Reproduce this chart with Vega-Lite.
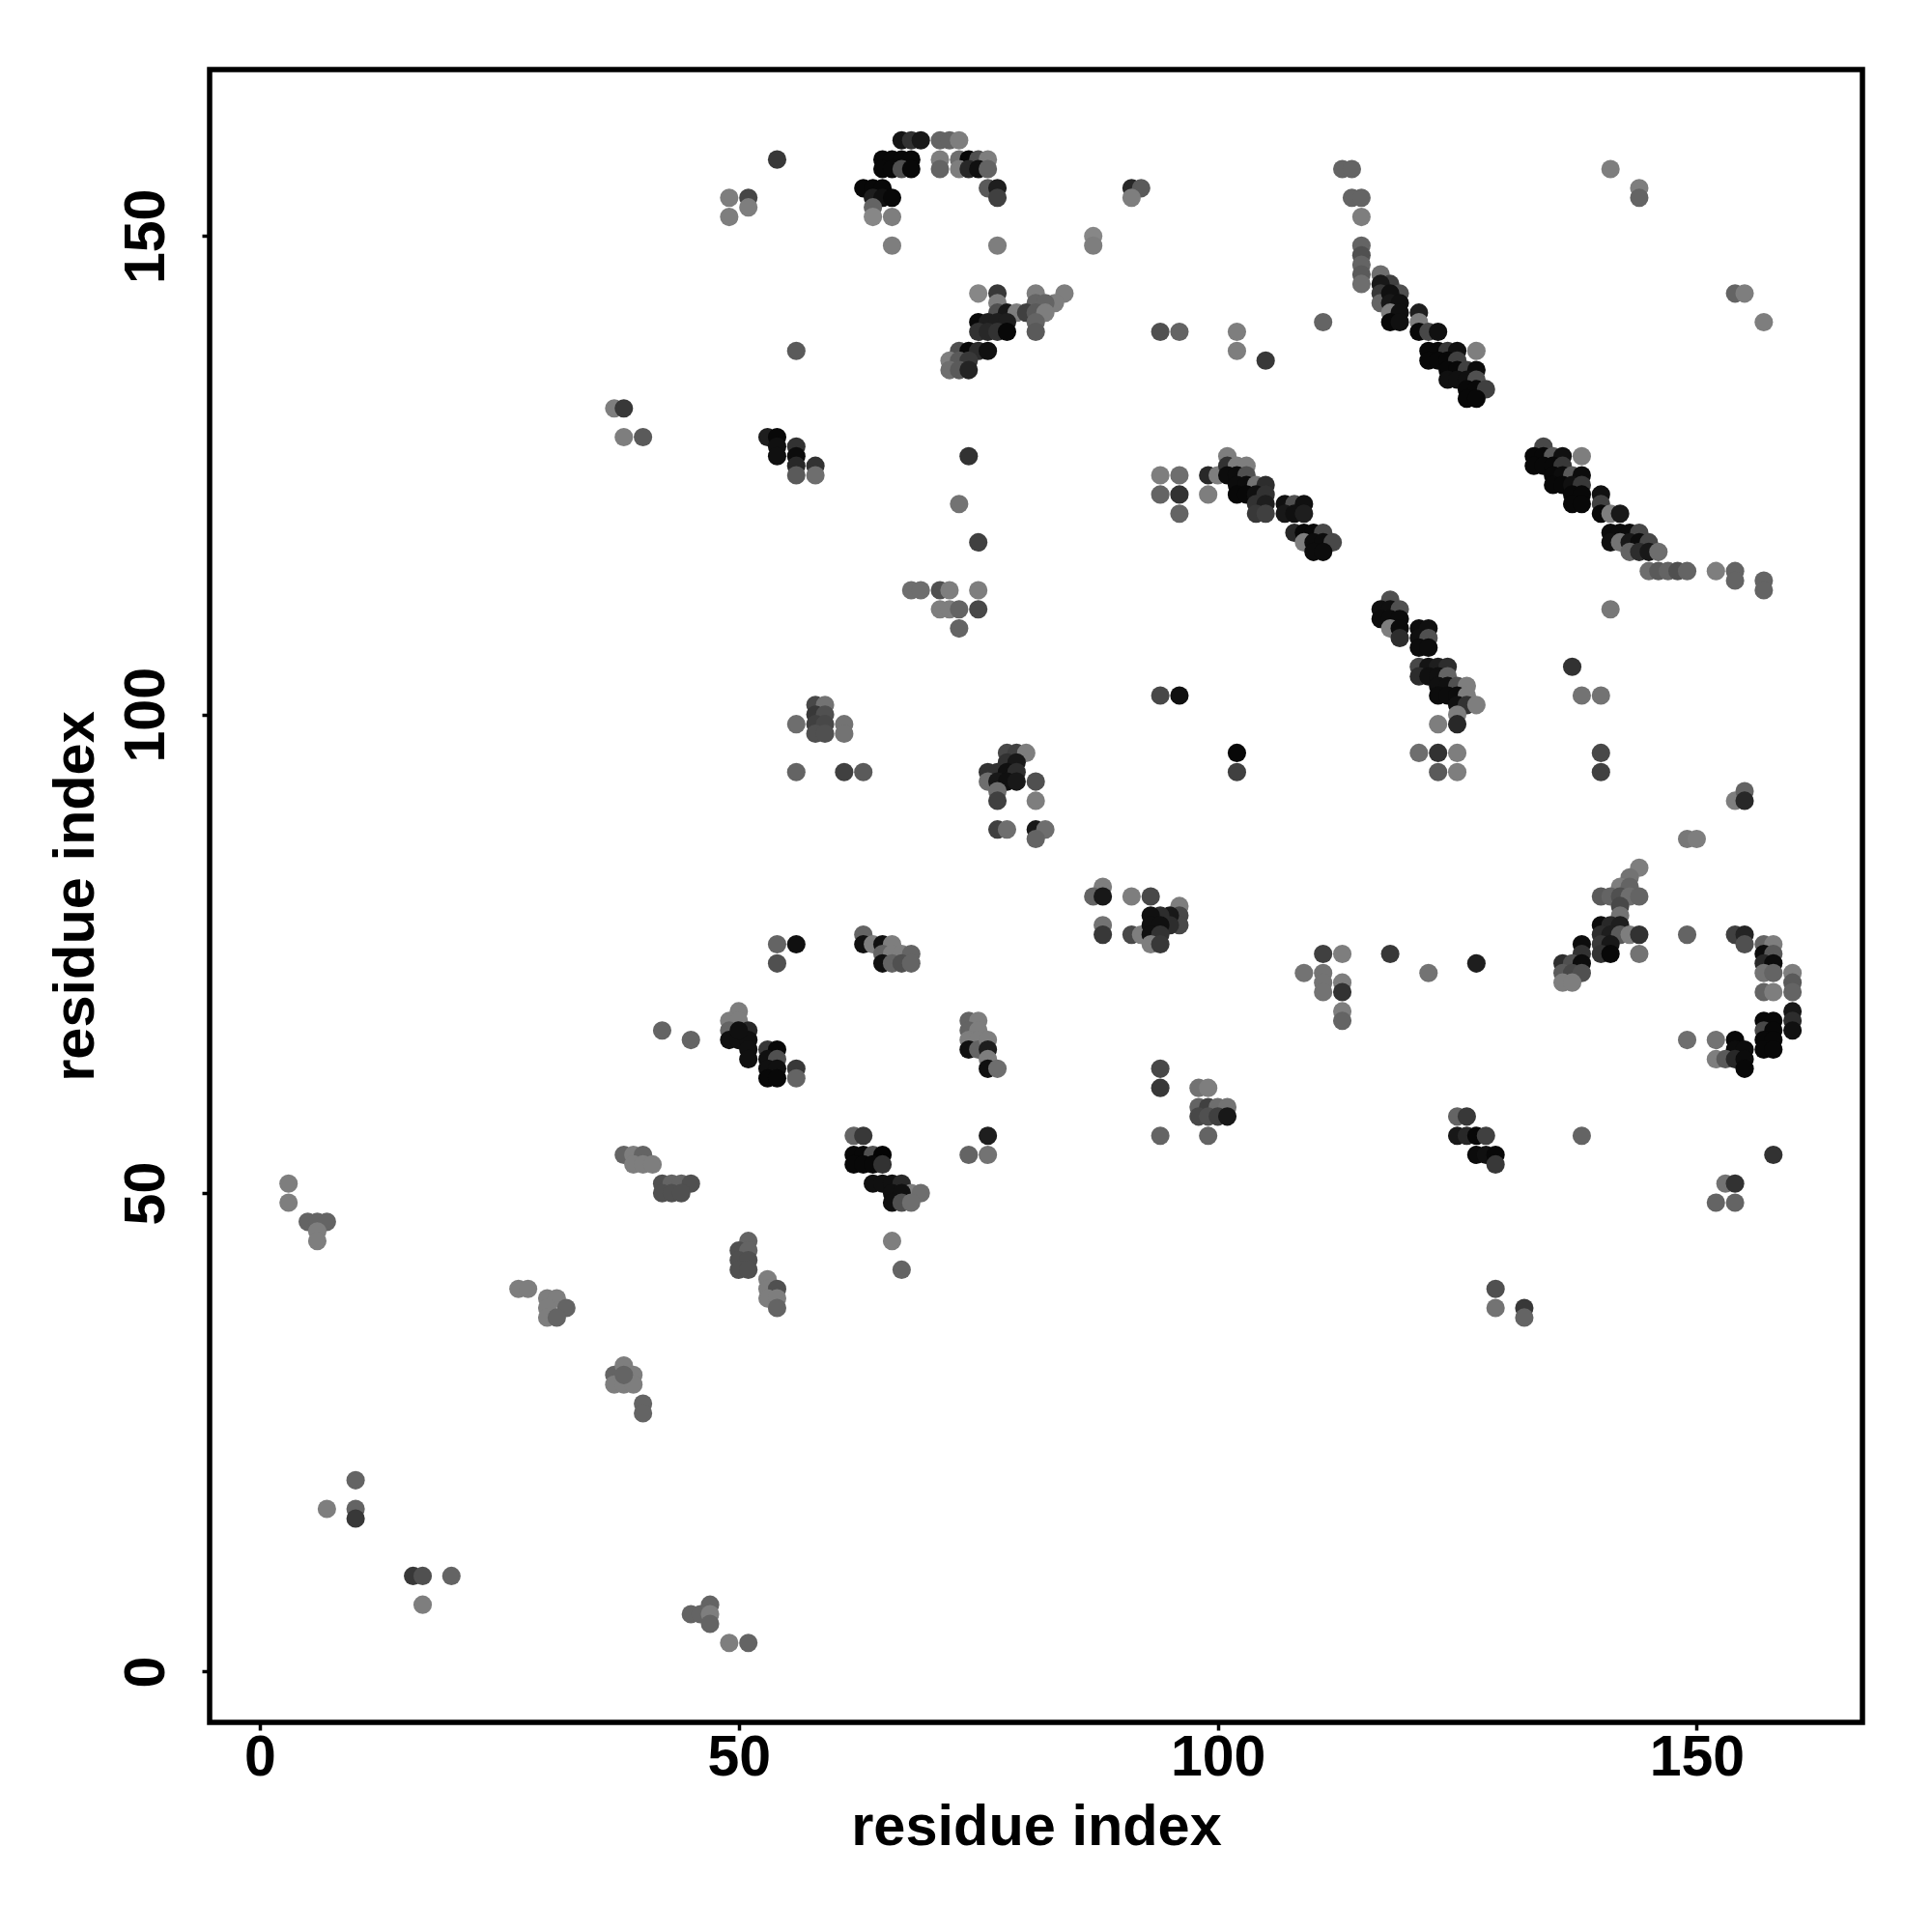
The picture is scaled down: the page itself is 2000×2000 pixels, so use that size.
{"$schema":"https://vega.github.io/schema/vega-lite/v6.json","autosize":{"type":"none"},"padding":{"left":217,"top":72,"right":72,"bottom":217},"width":1711,"height":1711,"background":"white","config":{"view":{"stroke":"black","strokeWidth":5.5,"fill":"white"}},
"data":{"values":[
{"x":3,"y":51,"v":126},{"x":3,"y":49,"v":126},{"x":5,"y":47,"v":100},{"x":6,"y":47,"v":100},{"x":7,"y":47,"v":100},{"x":6,"y":46,"v":126},{"x":6,"y":45,"v":126},{"x":7,"y":17,"v":126},{"x":10,"y":20,"v":100},{"x":10,"y":17,"v":100},{"x":10,"y":16,"v":56},{"x":16,"y":10,"v":56},{"x":17,"y":10,"v":80},{"x":20,"y":10,"v":100},{"x":17,"y":7,"v":126},
{"x":27,"y":40,"v":126},{"x":28,"y":40,"v":126},{"x":30,"y":39,"v":126},{"x":31,"y":39,"v":126},{"x":30,"y":38,"v":126},{"x":32,"y":38,"v":100},{"x":30,"y":37,"v":126},{"x":31,"y":37,"v":100},{"x":37,"y":31,"v":100},{"x":38,"y":32,"v":126},{"x":39,"y":31,"v":126},{"x":37,"y":30,"v":126},{"x":38,"y":30,"v":126},{"x":39,"y":30,"v":126},{"x":38,"y":31,"v":100},{"x":40,"y":28,"v":100},{"x":40,"y":27,"v":100},
{"x":45,"y":6,"v":100},{"x":46,"y":6,"v":100},{"x":47,"y":7,"v":100},{"x":47,"y":6,"v":126},{"x":47,"y":5,"v":100},{"x":49,"y":3,"v":126},{"x":51,"y":3,"v":100},
{"x":38,"y":54,"v":100},{"x":39,"y":54,"v":126},{"x":40,"y":54,"v":100},{"x":39,"y":53,"v":126},{"x":40,"y":53,"v":126},{"x":41,"y":53,"v":126},{"x":42,"y":51,"v":80},{"x":43,"y":51,"v":100},{"x":44,"y":51,"v":100},{"x":45,"y":51,"v":80},{"x":42,"y":50,"v":80},{"x":43,"y":50,"v":80},{"x":44,"y":50,"v":80},
{"x":51,"y":45,"v":100},{"x":50,"y":44,"v":80},{"x":51,"y":44,"v":100},{"x":50,"y":43,"v":80},{"x":51,"y":43,"v":80},{"x":50,"y":42,"v":80},{"x":51,"y":42,"v":80},{"x":53,"y":41,"v":126},{"x":53,"y":40,"v":126},{"x":54,"y":40,"v":80},{"x":53,"y":39,"v":126},{"x":54,"y":39,"v":126},{"x":54,"y":38,"v":100},{"x":42,"y":67,"v":100},{"x":45,"y":66,"v":100},
{"x":50,"y":69,"v":126},{"x":49,"y":68,"v":126},{"x":50,"y":68,"v":126},{"x":49,"y":67,"v":100},{"x":51,"y":67,"v":40},{"x":49,"y":66,"v":16},{"x":50,"y":66,"v":16},{"x":51,"y":66,"v":16},{"x":51,"y":65,"v":16},{"x":51,"y":64,"v":16},{"x":50,"y":67,"v":16},{"x":53,"y":65,"v":56},{"x":54,"y":65,"v":8},{"x":53,"y":64,"v":16},{"x":54,"y":64,"v":80},{"x":53,"y":63,"v":16},{"x":54,"y":63,"v":16},{"x":53,"y":62,"v":8},{"x":54,"y":62,"v":8},{"x":56,"y":63,"v":56},{"x":56,"y":62,"v":100},
{"x":74,"y":68,"v":100},{"x":75,"y":68,"v":126},{"x":74,"y":67,"v":100},{"x":75,"y":67,"v":126},{"x":74,"y":66,"v":126},{"x":75,"y":66,"v":126},{"x":74,"y":65,"v":16},{"x":75,"y":65,"v":100},{"x":76,"y":66,"v":126},{"x":76,"y":65,"v":30},{"x":76,"y":64,"v":126},{"x":76,"y":63,"v":16},{"x":77,"y":63,"v":110},
{"x":62,"y":56,"v":100},{"x":63,"y":56,"v":56},{"x":62,"y":54,"v":8},{"x":63,"y":54,"v":8},{"x":64,"y":54,"v":80},{"x":65,"y":54,"v":4},{"x":62,"y":53,"v":8},{"x":63,"y":53,"v":8},{"x":64,"y":53,"v":8},{"x":65,"y":53,"v":50},{"x":64,"y":51,"v":16},{"x":65,"y":51,"v":16},{"x":66,"y":51,"v":16},{"x":67,"y":51,"v":40},{"x":68,"y":50,"v":126},{"x":69,"y":50,"v":110},{"x":66,"y":50,"v":16},{"x":67,"y":50,"v":16},{"x":66,"y":49,"v":16},{"x":67,"y":49,"v":80},{"x":68,"y":49,"v":110},{"x":66,"y":45,"v":126},{"x":67,"y":42,"v":100},
{"x":54,"y":76,"v":100},{"x":56,"y":76,"v":16},{"x":54,"y":74,"v":80},{"x":63,"y":77,"v":100},{"x":63,"y":76,"v":16},{"x":64,"y":76,"v":126},{"x":65,"y":76,"v":16},{"x":66,"y":76,"v":126},{"x":65,"y":75,"v":100},{"x":66,"y":75,"v":126},{"x":67,"y":75,"v":126},{"x":68,"y":75,"v":100},{"x":65,"y":74,"v":16},{"x":66,"y":74,"v":100},{"x":67,"y":74,"v":80},{"x":68,"y":74,"v":100},{"x":76,"y":56,"v":30},{"x":74,"y":54,"v":100},{"x":76,"y":54,"v":115},
{"x":67,"y":160,"v":20},{"x":68,"y":160,"v":50},{"x":69,"y":160,"v":24},{"x":71,"y":160,"v":100},{"x":72,"y":160,"v":100},{"x":73,"y":160,"v":126},{"x":65,"y":158,"v":8},{"x":66,"y":158,"v":8},{"x":67,"y":158,"v":8},{"x":68,"y":158,"v":8},{"x":71,"y":158,"v":126},{"x":73,"y":158,"v":110},{"x":74,"y":158,"v":8},{"x":75,"y":158,"v":80},{"x":76,"y":158,"v":126},{"x":65,"y":157,"v":8},{"x":66,"y":157,"v":8},{"x":67,"y":157,"v":80},{"x":68,"y":157,"v":8},{"x":71,"y":157,"v":100},{"x":73,"y":157,"v":126},{"x":74,"y":157,"v":40},{"x":75,"y":157,"v":16},{"x":76,"y":157,"v":100},{"x":63,"y":155,"v":8},{"x":64,"y":155,"v":8},{"x":65,"y":155,"v":8},{"x":76,"y":155,"v":90},{"x":77,"y":155,"v":30},{"x":64,"y":154,"v":30},{"x":65,"y":154,"v":16},{"x":66,"y":154,"v":8},{"x":77,"y":154,"v":64},{"x":64,"y":153,"v":100},{"x":64,"y":152,"v":135},{"x":66,"y":152,"v":126},{"x":66,"y":149,"v":126},{"x":77,"y":149,"v":126},{"x":87,"y":150,"v":135},{"x":87,"y":149,"v":126},
{"x":75,"y":144,"v":135},{"x":77,"y":144,"v":56},{"x":81,"y":144,"v":126},{"x":84,"y":144,"v":126},{"x":77,"y":143,"v":126},{"x":81,"y":143,"v":100},{"x":83,"y":143,"v":126},{"x":82,"y":143,"v":100},{"x":77,"y":142,"v":80},{"x":78,"y":142,"v":24},{"x":79,"y":142,"v":126},{"x":80,"y":142,"v":64},{"x":81,"y":142,"v":90},{"x":82,"y":142,"v":126},{"x":75,"y":141,"v":8},{"x":76,"y":141,"v":30},{"x":77,"y":141,"v":30},{"x":78,"y":141,"v":30},{"x":81,"y":141,"v":100},{"x":75,"y":140,"v":50},{"x":76,"y":140,"v":40},{"x":77,"y":140,"v":50},{"x":78,"y":140,"v":8},{"x":81,"y":140,"v":90},{"x":73,"y":138,"v":80},{"x":74,"y":138,"v":8},{"x":75,"y":138,"v":45},{"x":76,"y":138,"v":16},{"x":72,"y":137,"v":126},{"x":73,"y":137,"v":90},{"x":74,"y":137,"v":56},{"x":72,"y":136,"v":110},{"x":73,"y":136,"v":90},{"x":74,"y":136,"v":36},
{"x":54,"y":158,"v":56},{"x":49,"y":154,"v":126},{"x":51,"y":154,"v":70},{"x":49,"y":152,"v":126},{"x":51,"y":153,"v":126},{"x":91,"y":155,"v":40},{"x":92,"y":155,"v":90},{"x":91,"y":154,"v":126},{"x":56,"y":138,"v":90},{"x":37,"y":132,"v":126},{"x":38,"y":132,"v":56},{"x":38,"y":129,"v":126},{"x":40,"y":129,"v":90},{"x":94,"y":140,"v":80},{"x":96,"y":140,"v":100},{"x":102,"y":140,"v":126},{"x":102,"y":138,"v":126},{"x":105,"y":137,"v":56},{"x":111,"y":141,"v":100},
{"x":113,"y":157,"v":100},{"x":114,"y":157,"v":100},{"x":114,"y":154,"v":100},{"x":115,"y":154,"v":100},{"x":115,"y":152,"v":126},{"x":115,"y":149,"v":100},{"x":115,"y":148,"v":80},{"x":115,"y":147,"v":100},{"x":115,"y":146,"v":90},{"x":115,"y":145,"v":110},{"x":117,"y":146,"v":110},{"x":118,"y":145,"v":64},{"x":119,"y":144,"v":80},{"x":117,"y":145,"v":24},{"x":117,"y":144,"v":56},{"x":117,"y":143,"v":100},{"x":118,"y":144,"v":16},{"x":118,"y":143,"v":24},{"x":119,"y":143,"v":16},{"x":118,"y":142,"v":126},{"x":119,"y":142,"v":16},{"x":118,"y":141,"v":8},{"x":119,"y":141,"v":16},{"x":121,"y":142,"v":30},{"x":121,"y":141,"v":126},{"x":121,"y":140,"v":8},{"x":122,"y":140,"v":72},{"x":123,"y":140,"v":16},
{"x":122,"y":138,"v":8},{"x":123,"y":138,"v":8},{"x":124,"y":138,"v":56},{"x":125,"y":138,"v":16},{"x":127,"y":138,"v":126},{"x":122,"y":137,"v":8},{"x":123,"y":137,"v":8},{"x":124,"y":137,"v":8},{"x":125,"y":137,"v":64},{"x":124,"y":136,"v":8},{"x":125,"y":136,"v":8},{"x":126,"y":136,"v":64},{"x":127,"y":136,"v":12},{"x":124,"y":135,"v":16},{"x":125,"y":135,"v":16},{"x":126,"y":135,"v":16},{"x":127,"y":135,"v":80},{"x":126,"y":134,"v":8},{"x":127,"y":134,"v":8},{"x":128,"y":134,"v":64},{"x":126,"y":133,"v":8},{"x":127,"y":133,"v":8},
{"x":141,"y":157,"v":126},{"x":144,"y":155,"v":126},{"x":144,"y":154,"v":100},{"x":154,"y":144,"v":100},{"x":155,"y":144,"v":126},{"x":157,"y":141,"v":126},
{"x":94,"y":125,"v":126},{"x":96,"y":125,"v":110},{"x":99,"y":125,"v":40},{"x":100,"y":125,"v":126},{"x":101,"y":127,"v":126},{"x":101,"y":126,"v":50},{"x":102,"y":126,"v":126},{"x":103,"y":126,"v":126},{"x":101,"y":125,"v":12},{"x":102,"y":125,"v":12},{"x":103,"y":125,"v":80},{"x":102,"y":124,"v":12},{"x":103,"y":124,"v":12},{"x":104,"y":124,"v":115},{"x":105,"y":124,"v":45},{"x":94,"y":123,"v":100},{"x":96,"y":123,"v":50},{"x":99,"y":123,"v":126},{"x":102,"y":123,"v":8},{"x":103,"y":123,"v":8},{"x":104,"y":123,"v":16},{"x":105,"y":123,"v":50},{"x":104,"y":122,"v":50},{"x":105,"y":122,"v":30},{"x":107,"y":122,"v":16},{"x":108,"y":122,"v":80},{"x":109,"y":122,"v":16},{"x":96,"y":121,"v":100},{"x":104,"y":121,"v":56},{"x":105,"y":121,"v":64},{"x":107,"y":121,"v":24},{"x":108,"y":121,"v":16},{"x":109,"y":121,"v":30},{"x":108,"y":119,"v":40},{"x":109,"y":119,"v":8},{"x":110,"y":119,"v":8},{"x":111,"y":119,"v":72},{"x":109,"y":118,"v":126},{"x":110,"y":118,"v":12},{"x":111,"y":118,"v":12},{"x":112,"y":118,"v":72},{"x":110,"y":117,"v":12},{"x":111,"y":117,"v":12},
{"x":74,"y":127,"v":50},{"x":73,"y":122,"v":115},{"x":75,"y":118,"v":64},{"x":53,"y":129,"v":30},{"x":54,"y":129,"v":8},{"x":54,"y":128,"v":16},{"x":54,"y":127,"v":16},{"x":56,"y":128,"v":50},{"x":56,"y":127,"v":12},{"x":56,"y":126,"v":40},{"x":56,"y":125,"v":90},{"x":58,"y":126,"v":50},{"x":58,"y":125,"v":110},
{"x":134,"y":128,"v":72},{"x":133,"y":127,"v":8},{"x":134,"y":127,"v":8},{"x":135,"y":127,"v":90},{"x":136,"y":127,"v":16},{"x":138,"y":127,"v":126},{"x":133,"y":126,"v":8},{"x":134,"y":126,"v":8},{"x":135,"y":126,"v":8},{"x":136,"y":126,"v":56},{"x":135,"y":125,"v":8},{"x":136,"y":125,"v":12},{"x":137,"y":125,"v":90},{"x":138,"y":125,"v":12},{"x":135,"y":124,"v":8},{"x":136,"y":124,"v":8},{"x":137,"y":124,"v":16},{"x":138,"y":124,"v":56},{"x":137,"y":123,"v":8},{"x":138,"y":123,"v":8},{"x":140,"y":123,"v":16},{"x":137,"y":122,"v":8},{"x":138,"y":122,"v":8},{"x":140,"y":122,"v":64},{"x":140,"y":121,"v":8},{"x":141,"y":121,"v":126},{"x":142,"y":121,"v":24},{"x":141,"y":119,"v":12},{"x":142,"y":119,"v":12},{"x":143,"y":119,"v":12},{"x":144,"y":119,"v":72},{"x":141,"y":118,"v":16},{"x":142,"y":118,"v":115},{"x":143,"y":118,"v":24},{"x":144,"y":118,"v":12},{"x":145,"y":118,"v":72},{"x":143,"y":117,"v":100},{"x":144,"y":117,"v":45},{"x":145,"y":117,"v":24},{"x":146,"y":117,"v":110},{"x":145,"y":115,"v":110},{"x":146,"y":115,"v":90},{"x":147,"y":115,"v":100},{"x":148,"y":115,"v":80},{"x":149,"y":115,"v":100},{"x":152,"y":115,"v":126},{"x":154,"y":115,"v":100},{"x":154,"y":114,"v":100},{"x":157,"y":114,"v":100},{"x":157,"y":113,"v":100},{"x":141,"y":111,"v":120},
{"x":68,"y":113,"v":110},{"x":69,"y":113,"v":110},{"x":71,"y":113,"v":80},{"x":72,"y":113,"v":126},{"x":75,"y":113,"v":126},{"x":71,"y":111,"v":126},{"x":72,"y":111,"v":126},{"x":73,"y":111,"v":100},{"x":75,"y":111,"v":72},{"x":73,"y":109,"v":100},
{"x":118,"y":112,"v":80},{"x":117,"y":111,"v":16},{"x":118,"y":111,"v":16},{"x":119,"y":111,"v":80},{"x":117,"y":110,"v":12},{"x":118,"y":110,"v":12},{"x":119,"y":110,"v":12},{"x":118,"y":109,"v":126},{"x":119,"y":109,"v":12},{"x":121,"y":109,"v":12},{"x":122,"y":109,"v":16},{"x":119,"y":108,"v":45},{"x":121,"y":108,"v":16},{"x":122,"y":108,"v":80},{"x":121,"y":107,"v":12},{"x":122,"y":107,"v":12},{"x":121,"y":105,"v":72},{"x":122,"y":105,"v":20},{"x":123,"y":105,"v":30},{"x":124,"y":105,"v":45},{"x":121,"y":104,"v":45},{"x":122,"y":104,"v":16},{"x":123,"y":104,"v":16},{"x":124,"y":104,"v":100},{"x":123,"y":103,"v":16},{"x":124,"y":103,"v":16},{"x":125,"y":103,"v":80},{"x":126,"y":103,"v":126},{"x":123,"y":102,"v":12},{"x":124,"y":102,"v":12},{"x":125,"y":102,"v":12},{"x":126,"y":102,"v":126},{"x":125,"y":101,"v":16},{"x":126,"y":101,"v":50},{"x":127,"y":101,"v":126},{"x":125,"y":100,"v":126},{"x":123,"y":99,"v":126},{"x":125,"y":99,"v":40},{"x":121,"y":96,"v":110},{"x":123,"y":96,"v":50},{"x":125,"y":96,"v":126},{"x":123,"y":94,"v":90},{"x":125,"y":94,"v":126},
{"x":94,"y":102,"v":72},{"x":96,"y":102,"v":16},{"x":102,"y":96,"v":8},{"x":102,"y":94,"v":64},{"x":137,"y":105,"v":50},{"x":138,"y":102,"v":115},{"x":140,"y":102,"v":115},{"x":140,"y":96,"v":72},{"x":140,"y":94,"v":64},
{"x":56,"y":99,"v":110},{"x":58,"y":101,"v":72},{"x":59,"y":101,"v":115},{"x":58,"y":100,"v":56},{"x":59,"y":100,"v":80},{"x":58,"y":99,"v":64},{"x":59,"y":99,"v":72},{"x":58,"y":98,"v":80},{"x":59,"y":98,"v":80},{"x":61,"y":99,"v":115},{"x":61,"y":98,"v":115},{"x":56,"y":94,"v":100},{"x":61,"y":94,"v":64},{"x":63,"y":94,"v":90},
{"x":78,"y":96,"v":72},{"x":79,"y":96,"v":64},{"x":80,"y":96,"v":126},{"x":78,"y":95,"v":50},{"x":79,"y":95,"v":24},{"x":76,"y":94,"v":50},{"x":77,"y":94,"v":50},{"x":78,"y":94,"v":16},{"x":79,"y":94,"v":45},{"x":76,"y":93,"v":110},{"x":77,"y":93,"v":24},{"x":78,"y":93,"v":16},{"x":79,"y":93,"v":24},{"x":81,"y":93,"v":80},{"x":77,"y":92,"v":110},{"x":77,"y":91,"v":64},{"x":81,"y":91,"v":126},{"x":77,"y":88,"v":64},{"x":78,"y":88,"v":110},{"x":81,"y":88,"v":24},{"x":82,"y":88,"v":110},{"x":81,"y":87,"v":100},
{"x":149,"y":87,"v":120},{"x":150,"y":87,"v":126},{"x":154,"y":91,"v":126},{"x":155,"y":92,"v":100},{"x":155,"y":91,"v":40},
{"x":88,"y":82,"v":126},{"x":87,"y":81,"v":100},{"x":88,"y":81,"v":24},{"x":91,"y":81,"v":126},{"x":93,"y":81,"v":72},{"x":88,"y":78,"v":115},{"x":88,"y":77,"v":56},{"x":91,"y":77,"v":72},{"x":92,"y":77,"v":126},{"x":96,"y":80,"v":126},{"x":96,"y":79,"v":72},{"x":96,"y":78,"v":72},{"x":95,"y":79,"v":24},{"x":95,"y":78,"v":45},{"x":94,"y":79,"v":45},{"x":93,"y":79,"v":16},{"x":93,"y":78,"v":16},{"x":94,"y":78,"v":16},{"x":93,"y":77,"v":16},{"x":94,"y":77,"v":50},{"x":93,"y":76,"v":126},{"x":94,"y":76,"v":56},
{"x":94,"y":63,"v":72},{"x":94,"y":61,"v":56},{"x":94,"y":56,"v":100},{"x":98,"y":61,"v":115},{"x":99,"y":61,"v":126},{"x":98,"y":59,"v":100},{"x":99,"y":59,"v":64},{"x":100,"y":59,"v":110},{"x":101,"y":59,"v":115},{"x":98,"y":58,"v":72},{"x":99,"y":58,"v":80},{"x":100,"y":58,"v":64},{"x":101,"y":58,"v":24},{"x":99,"y":56,"v":100},
{"x":109,"y":73,"v":115},{"x":111,"y":75,"v":64},{"x":113,"y":75,"v":126},{"x":111,"y":73,"v":115},{"x":111,"y":72,"v":115},{"x":113,"y":72,"v":126},{"x":111,"y":71,"v":115},{"x":113,"y":71,"v":50},{"x":113,"y":69,"v":126},{"x":113,"y":68,"v":100},{"x":118,"y":75,"v":56},{"x":122,"y":73,"v":115},{"x":127,"y":74,"v":30},
{"x":125,"y":58,"v":100},{"x":126,"y":58,"v":56},{"x":125,"y":56,"v":24},{"x":126,"y":56,"v":40},{"x":127,"y":56,"v":8},{"x":128,"y":56,"v":64},{"x":127,"y":54,"v":12},{"x":128,"y":54,"v":16},{"x":129,"y":54,"v":8},{"x":129,"y":53,"v":56},{"x":138,"y":56,"v":100},{"x":129,"y":40,"v":80},{"x":129,"y":38,"v":115},{"x":132,"y":38,"v":56},{"x":132,"y":37,"v":100},{"x":152,"y":49,"v":100},{"x":153,"y":51,"v":115},{"x":154,"y":51,"v":50},{"x":154,"y":49,"v":100},{"x":158,"y":54,"v":50},
{"x":144,"y":84,"v":126},{"x":143,"y":83,"v":115},{"x":142,"y":82,"v":126},{"x":143,"y":82,"v":100},{"x":140,"y":81,"v":90},{"x":141,"y":81,"v":100},{"x":142,"y":81,"v":80},{"x":143,"y":81,"v":110},{"x":144,"y":81,"v":100},{"x":142,"y":80,"v":72},{"x":142,"y":79,"v":115},{"x":140,"y":78,"v":12},{"x":141,"y":78,"v":40},{"x":142,"y":78,"v":30},{"x":140,"y":77,"v":45},{"x":141,"y":77,"v":30},{"x":142,"y":77,"v":90},{"x":143,"y":77,"v":126},{"x":144,"y":77,"v":50},{"x":149,"y":77,"v":100},{"x":154,"y":77,"v":64},{"x":155,"y":77,"v":36},{"x":138,"y":76,"v":12},{"x":140,"y":76,"v":56},{"x":141,"y":76,"v":24},{"x":155,"y":76,"v":80},{"x":157,"y":76,"v":100},{"x":158,"y":76,"v":126},{"x":138,"y":75,"v":50},{"x":140,"y":75,"v":50},{"x":141,"y":75,"v":8},{"x":144,"y":75,"v":115},{"x":157,"y":75,"v":12},{"x":158,"y":75,"v":90},{"x":136,"y":74,"v":45},{"x":137,"y":74,"v":80},{"x":138,"y":74,"v":12},{"x":157,"y":74,"v":40},{"x":158,"y":74,"v":12},{"x":136,"y":73,"v":90},{"x":137,"y":73,"v":72},{"x":138,"y":73,"v":80},{"x":157,"y":73,"v":115},{"x":158,"y":73,"v":100},{"x":160,"y":73,"v":126},{"x":136,"y":72,"v":126},{"x":137,"y":72,"v":126},{"x":160,"y":72,"v":90},{"x":157,"y":71,"v":100},{"x":158,"y":71,"v":126},{"x":160,"y":71,"v":100},{"x":160,"y":69,"v":24},{"x":157,"y":68,"v":8},{"x":158,"y":68,"v":8},{"x":160,"y":68,"v":45},{"x":157,"y":67,"v":72},{"x":158,"y":67,"v":8},{"x":160,"y":67,"v":16},{"x":149,"y":66,"v":110},{"x":152,"y":66,"v":115},{"x":154,"y":66,"v":8},{"x":157,"y":66,"v":8},{"x":158,"y":66,"v":8},{"x":154,"y":65,"v":12},{"x":155,"y":65,"v":12},{"x":157,"y":65,"v":8},{"x":158,"y":65,"v":8},{"x":152,"y":64,"v":126},{"x":153,"y":64,"v":90},{"x":154,"y":64,"v":40},{"x":155,"y":64,"v":12},{"x":155,"y":63,"v":8}
]},
"mark":{"type":"point","shape":"circle","filled":true,"opacity":1,"size":365},
"encoding":{
"x":{"field":"x","type":"quantitative","scale":{"domain":[-5.24,167.3],"nice":false,"zero":false},"axis":{"values":[0,50,100,150],"grid":false,"domain":false,"tickColor":"black","tickWidth":3.5,"tickSize":8,"labelFont":"Liberation Sans","labelFontWeight":"bold","labelFontSize":59,"labelColor":"black","labelPadding":-1,"labelOverlap":false,"labelFlush":false,"title":"residue index","titleFont":"Liberation Sans","titleFontWeight":"bold","titleFontSize":59.5,"titleColor":"black","titlePadding":13}},
"y":{"field":"y","type":"quantitative","scale":{"domain":[-5.3,167.4],"nice":false,"zero":false},"axis":{"values":[0,50,100,150],"grid":false,"domain":false,"tickColor":"black","tickWidth":3.5,"tickSize":8,"labelFont":"Liberation Sans","labelFontWeight":"bold","labelFontSize":59,"labelColor":"black","labelAngle":-90,"labelAlign":"center","labelBaseline":"bottom","labelPadding":28,"labelOverlap":false,"labelFlush":false,"title":"residue index","titleFont":"Liberation Sans","titleFontWeight":"bold","titleFontSize":59.5,"titleColor":"black","titlePadding":14}},
"color":{"field":"v","type":"quantitative","scale":{"domain":[0,255],"range":["#000000","#ffffff"],"interpolate":"rgb"},"legend":null},
"order":[{"field":"x","type":"quantitative"},{"field":"y","type":"quantitative"}]
}}
